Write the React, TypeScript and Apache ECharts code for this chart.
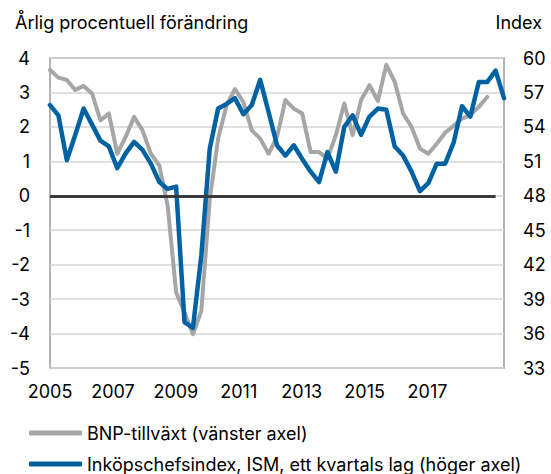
import React, { useEffect, useRef } from "react";
import * as echarts from "echarts";

// Quarterly categories 2005 K1 .. 2018 K3
const startYear = 2005;
const quarterCount = 55;
const quarters: string[] = Array.from(
  { length: quarterCount },
  (_, i) => `${startYear + Math.floor(i / 4)} K${(i % 4) + 1}`
);

// BNP-tillväxt, årlig procentuell förändring (vänster axel)
const gdpGrowth: (number | null)[] = [
  3.65, 3.43, 3.36, 3.07, 3.19, 2.97, 2.19, 2.39, 1.22, 1.71,
  2.29, 1.9, 1.22, 0.88, -0.3, -2.8, -3.39, -4.02, -3.34, -0.1,
  1.66, 2.63, 3.1, 2.72, 1.9, 1.66, 1.22, 1.71, 2.78, 2.53,
  2.39, 1.27, 1.27, 1.08, 1.76, 2.68, 1.76, 2.78, 3.21, 2.75,
  3.8, 3.31, 2.39, 2.0, 1.37, 1.22, 1.51, 1.83, 2.03, 2.24,
  2.34, 2.58, 2.87, null, null,
];

// Inköpschefsindex, ISM, ett kvartals lag (höger axel)
const ismLagged: number[] = [
  55.9, 55.0, 51.1, 53.3, 55.6, 54.2, 52.8, 52.3, 50.4, 51.7,
  52.7, 52.0, 50.8, 49.2, 48.6, 48.8, 37.0, 36.5, 42.8, 52.1,
  55.6, 56.0, 56.5, 55.1, 55.9, 58.1, 55.3, 52.4, 51.5, 52.4,
  51.2, 50.1, 49.2, 51.8, 50.1, 54.0, 55.0, 53.3, 54.9, 55.6,
  55.5, 52.3, 51.5, 50.1, 48.4, 49.1, 50.8, 50.8, 52.6, 55.8,
  54.9, 57.9, 57.9, 58.9, 56.5,
];

const yearTicks = [2005, 2007, 2009, 2011, 2013, 2015, 2017];
const zeroLineEnd = "2018 K2";

const FONT = "Inter, 'Liberation Sans', Arial, sans-serif";
const GRAY = "#a6a6a6";
const BLUE = "#0062a3";

export default function App() {
  const ref = useRef<HTMLDivElement>(null);

  useEffect(() => {
    if (!ref.current) return;
    const chart = echarts.init(ref.current, undefined, { renderer: "svg" });
    chart.setOption({
      animation: false,
      backgroundColor: "#ffffff",
      textStyle: { fontFamily: FONT },
      title: [
        {
          text: "Årlig procentuell förändring",
          left: 10,
          top: 8,
          textStyle: { fontSize: 18, fontWeight: "normal", color: "#000", fontFamily: FONT },
        },
        {
          text: "Index",
          right: 4,
          top: 8,
          textStyle: { fontSize: 18, fontWeight: "normal", color: "#000", fontFamily: FONT },
        },
      ],
      grid: {
        left: 50,
        right: 47,
        top: 58,
        bottom: 106,
        show: true,
        borderColor: "#9a9a9a",
        borderWidth: 1.5,
      },
      legend: {
        orient: "vertical",
        left: 29,
        top: 424,
        padding: 0,
        itemWidth: 53,
        itemHeight: 5,
        itemGap: 13,
        icon: "roundRect",
        textStyle: { fontSize: 18, color: "#000", fontFamily: FONT, lineHeight: 18 },
        data: [
          { name: "BNP-tillväxt (vänster axel)", itemStyle: { color: GRAY } },
          {
            name: "Inköpschefsindex, ISM, ett kvartals lag (höger axel)",
            itemStyle: { color: BLUE },
          },
        ],
      },
      xAxis: [
        {
          type: "category",
          data: quarters,
          boundaryGap: false,
          axisLine: { show: false },
          axisTick: { show: false },
          axisLabel: { show: false },
          splitLine: { show: false },
        },
        {
          type: "value",
          position: "bottom",
          min: 2005,
          max: 2019.43,
          interval: 2,
          axisLine: { show: false },
          axisTick: { show: false },
          splitLine: { show: false },
          axisLabel: {
            margin: 14,
            fontSize: 18,
            color: "#000",
            fontFamily: FONT,
            showMaxLabel: false,
            formatter: (v: number) => (yearTicks.includes(v) ? String(v) : ""),
          },
        },
      ],
      yAxis: [
        {
          type: "value",
          min: -5,
          max: 4,
          interval: 1,
          position: "left",
          axisLine: { show: false },
          axisTick: { show: false },
          axisLabel: { margin: 20, fontSize: 18, color: "#000", fontFamily: FONT },
          splitLine: { show: true, lineStyle: { color: "#d6d6d6", width: 1.5 } },
        },
        {
          type: "value",
          min: 33,
          max: 60,
          interval: 3,
          position: "right",
          axisLine: { show: false },
          axisTick: { show: false },
          axisLabel: { margin: 19, fontSize: 18, color: "#000", fontFamily: FONT },
          splitLine: { show: false },
        },
      ],
      series: [
        {
          name: "BNP-tillväxt (vänster axel)",
          type: "line",
          xAxisIndex: 0,
          yAxisIndex: 0,
          data: gdpGrowth,
          showSymbol: false,
          symbol: "none",
          color: GRAY,
          lineStyle: { color: GRAY, width: 4, cap: "round", join: "round" },
          z: 2,
          markLine: {
            silent: true,
            symbol: "none",
            label: { show: false },
            lineStyle: { color: "#3a3a3a", width: 3, type: "solid" },
            data: [[{ coord: [quarters[0], 0] }, { coord: [zeroLineEnd, 0] }]],
          },
        },
        {
          name: "Inköpschefsindex, ISM, ett kvartals lag (höger axel)",
          type: "line",
          xAxisIndex: 0,
          yAxisIndex: 1,
          data: ismLagged,
          showSymbol: false,
          symbol: "none",
          color: BLUE,
          lineStyle: { color: BLUE, width: 4.5, cap: "round", join: "round" },
          z: 3,
        },
      ],
    });
    return () => chart.dispose();
  }, []);

  return <div ref={ref} style={{ width: 551, height: 474, position: "absolute", left: 0, top: 0 }} />;
}
